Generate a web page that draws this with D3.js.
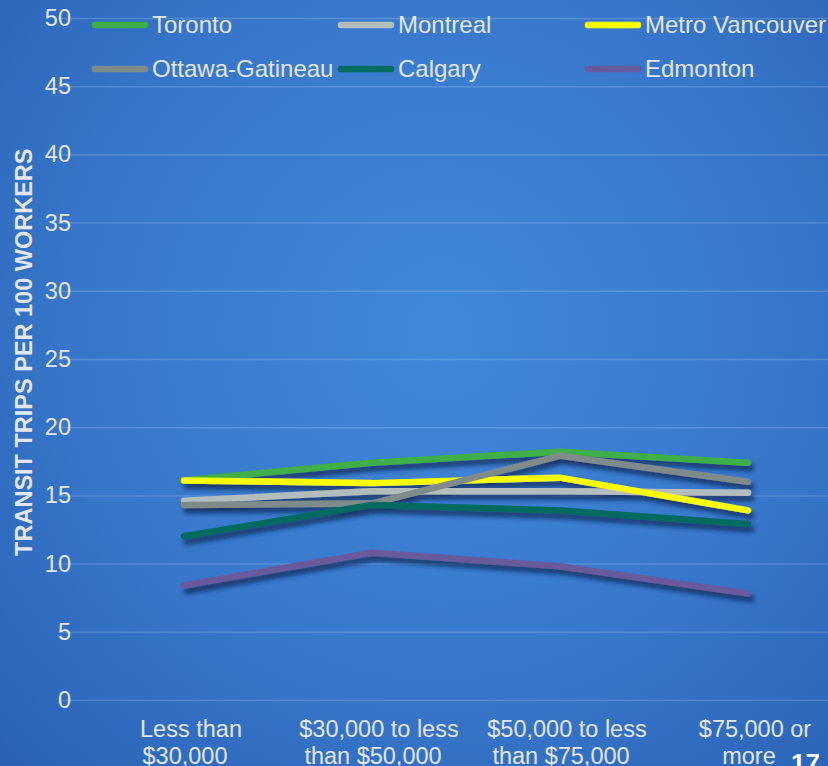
<!DOCTYPE html>
<html>
<head>
<meta charset="utf-8">
<script src="https://cdn.jsdelivr.net/npm/d3@7"></script>
<style>
  html, body { margin: 0; padding: 0; background: #2f6fc2; }
  svg { display: block; }
  text { font-family: "Liberation Sans", Arial, sans-serif; }
</style>
</head>
<body>
<svg id="chart" width="828" height="766"></svg>
<script>
// Income groups along the x axis
const categories = [
  ["Less than", "$30,000"],
  ["$30,000 to less", "than $50,000"],
  ["$50,000 to less", "than $75,000"],
  ["$75,000 or", "more"]
];
const categoryKeys = ["lt30", "30to50", "50to75", "75plus"];

// Transit trips per 100 workers, by region
const toronto        = [16.1, 17.4, 18.2, 17.4];
const montreal       = [14.6, 15.3, 15.3, 15.2];
const vancouver      = [16.1, 15.9, 16.3, 13.9];
const ottawaGatineau = [14.3, 14.4, 17.9, 16.0];
const calgary        = [12.0, 14.3, 13.9, 12.9];
const edmonton       = [8.4, 10.8, 9.8, 7.8];

const seriesNames  = ["Toronto", "Montreal", "Metro Vancouver", "Ottawa-Gatineau", "Calgary", "Edmonton"];
const seriesValues = [toronto, montreal, vancouver, ottawaGatineau, calgary, edmonton];
const seriesColors = ["#3fae49", "#b4bdbd", "#ffff00", "#7f8b8b", "#006b60", "#675a9c"];

const yTicks = [0, 5, 10, 15, 20, 25, 30, 35, 40, 45, 50];
const yTitle = "TRANSIT TRIPS PER 100 WORKERS";
const pageNumber = "17";

const W = 828, H = 766;
const svg = d3.select("#chart");
const defs = svg.append("defs");

// Slide background: lighter blue in the middle, darker toward the edges
const bg = defs.append("radialGradient")
  .attr("id", "bg").attr("gradientUnits", "userSpaceOnUse")
  .attr("cx", 440).attr("cy", 330).attr("r", 620);
bg.append("stop").attr("offset", "0%").attr("stop-color", "#4189da");
bg.append("stop").attr("offset", "55%").attr("stop-color", "#3878cc");
bg.append("stop").attr("offset", "100%").attr("stop-color", "#2962b4");
svg.append("rect").attr("width", W).attr("height", H).attr("fill", "url(#bg)");

// Soft drop shadow under the data lines
const sh = defs.append("filter").attr("id", "shadow")
  .attr("x", "-10%").attr("y", "-50%").attr("width", "120%").attr("height", "200%");
sh.append("feGaussianBlur").attr("in", "SourceAlpha").attr("stdDeviation", 2.5).attr("result", "b");
sh.append("feOffset").attr("in", "b").attr("dx", 3).attr("dy", 5).attr("result", "o");
sh.append("feFlood").attr("flood-color", "#0c2450").attr("flood-opacity", 0.8).attr("result", "c");
sh.append("feComposite").attr("in", "c").attr("in2", "o").attr("operator", "in").attr("result", "s");
const m = sh.append("feMerge");
m.append("feMergeNode").attr("in", "s");
m.append("feMergeNode").attr("in", "SourceGraphic");

const x = d3.scalePoint().domain(categoryKeys).range([184, 748]);
const y = d3.scaleLinear().domain([0, 50]).range([700, 18]);

const textColor = "#e4e6ea";

// Gridlines and y tick labels
const yAxis = d3.axisLeft(y).tickValues(yTicks).tickSize(-(W - 58));
const gy = svg.append("g").attr("transform", "translate(58,0)").call(yAxis);
gy.select(".domain").remove();
gy.selectAll(".tick line").attr("stroke", "#ffffff").attr("stroke-opacity", 0.16).attr("stroke-width", 1.5);
gy.selectAll(".tick text")
  .attr("x", 13)
  .attr("text-anchor", "end")
  .attr("fill", textColor).attr("font-size", "23.5px")
  .attr("font-family", "'Liberation Sans', Arial, sans-serif");

// Y axis title
svg.append("text")
  .attr("transform", `translate(32,${y(25.5)}) rotate(-90)`)
  .attr("text-anchor", "middle")
  .attr("fill", textColor).attr("font-size", "23.5px").attr("font-weight", "bold")
  .text(yTitle);

// X category labels (two lines each)
const xl = svg.append("g");
categories.forEach((lines, i) => {
  const t = xl.append("text")
    .attr("text-anchor", "middle")
    .attr("fill", textColor).attr("font-size", "23.5px");
  lines.forEach((ln, j) => {
    t.append("tspan")
      .attr("x", x(categoryKeys[i]) + (j === 0 ? 7 : 1))
      .attr("y", 737 + j * 27)
      .text(ln);
  });
});

// Data lines
const line = d3.line()
  .x((d, i) => x(categoryKeys[i]))
  .y(d => y(d));

svg.append("g").attr("filter", "url(#shadow)")
  .selectAll("path")
  .data(seriesValues)
  .join("path")
  .attr("d", d => line(d))
  .attr("fill", "none")
  .attr("stroke", (d, i) => seriesColors[i])
  .attr("stroke-width", 6.5)
  .attr("stroke-linecap", "round")
  .attr("stroke-linejoin", "round");

// Legend: three columns, two rows
const legendCols = [92, 338, 585];
const legendRows = [25, 69];
const lg = svg.append("g");
seriesNames.forEach((name, i) => {
  const cx = legendCols[i % 3], cy = legendRows[Math.floor(i / 3)];
  lg.append("line")
    .attr("x1", cx + 3).attr("x2", cx + 53)
    .attr("y1", cy).attr("y2", cy)
    .attr("stroke", seriesColors[i]).attr("stroke-width", 6.5)
    .attr("stroke-linecap", "round");
  lg.append("text")
    .attr("x", cx + 60).attr("y", cy)
    .attr("dy", "0.35em")
    .attr("fill", textColor).attr("font-size", "24px")
    .text(name);
});

// Slide page number
svg.append("text")
  .attr("x", 820).attr("y", 772)
  .attr("text-anchor", "end")
  .attr("fill", "#ffffff").attr("font-size", "26px").attr("font-weight", "bold")
  .text(pageNumber);
</script>
</body>
</html>
